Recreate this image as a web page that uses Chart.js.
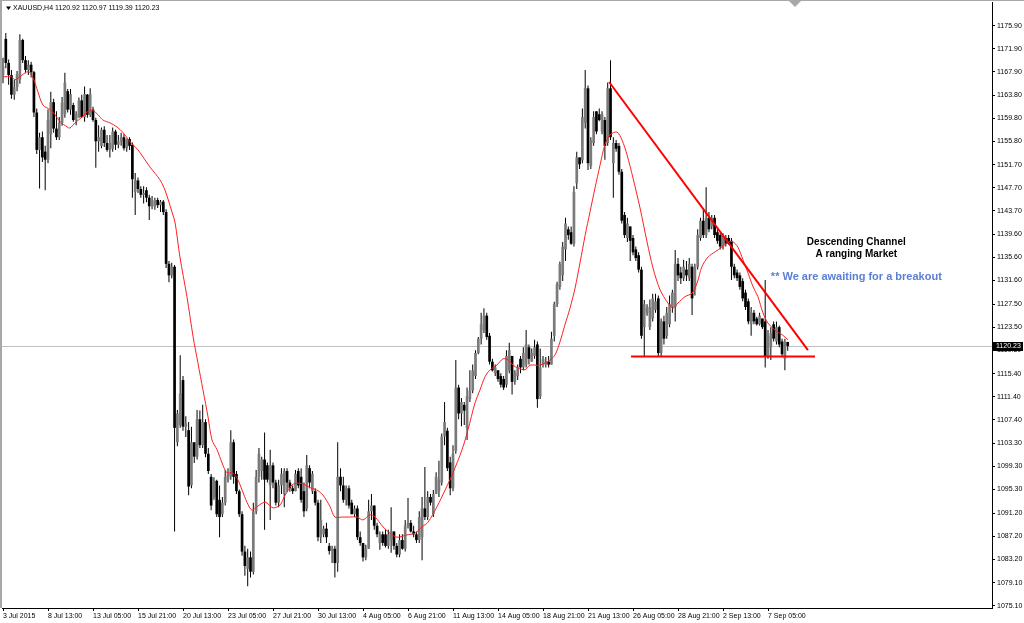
<!DOCTYPE html>
<html><head><meta charset="utf-8">
<script src="https://cdn.jsdelivr.net/npm/chart.js@4/dist/chart.umd.min.js"></script>
<style>html,body{margin:0;padding:0;background:#fff;}canvas{display:block}</style>
</head><body>
<canvas id="c" width="1024" height="623"></canvas>
<script>
const symbolName = 'XAUUSD,H4';

const openP = [
1167.3,1173.6,1169.4,1167.3,1163.9,1165.2,1166.5,1173.4,1169.9,1168.2,
1169.1,1167.8,1160.8,1154.3,1156.5,1154.0,1152.6,1157.0,1162.6,1158.0,
1156.5,1159.0,1160.5,1164.5,1161.3,1162.1,1159.5,1159.9,1162.9,1160.0,
1163.9,1160.4,1161.3,1159.5,1155.8,1155.0,1157.8,1155.5,1154.3,1154.5,
1157.5,1155.2,1155.8,1156.5,1154.6,1156.2,1155.2,1147.0,1149.0,1147.5,
1146.5,1147.3,1146.0,1144.5,1144.5,1145.6,1144.7,1145.3,1143.5,1134.5,
1132.5,1134.0,1103.5,1106.5,1114.3,1106.2,1105.6,1096.0,1103.5,1101.0,
1107.5,1103.0,1107.0,1101.5,1097.5,1094.0,1096.8,1093.5,1091.0,1093.0,
1097.0,1097.5,1103.5,1098.0,1095.0,1091.0,1084.5,1081.5,1083.5,1081.0,
1091.5,1097.5,1098.5,1100.5,1099.5,1096.0,1099.5,1096.5,1093.0,1096.0,
1094.5,1098.5,1096.5,1095.5,1095.0,1098.5,1097.5,1095.0,1092.0,1099.0,
1095.0,1095.0,1093.0,1087.0,1087.5,1088.5,1085.5,1084.6,1085.0,1082.5,
1097.5,1096.0,1093.5,1095.5,1093.0,1091.0,1092.0,1087.0,1086.0,1083.5,
1085.0,1091.5,1092.5,1089.0,1086.0,1087.5,1087.5,1085.5,1086.5,1088.0,
1085.5,1084.0,1086.5,1085.0,1089.0,1089.5,1088.0,1087.5,1086.5,1087.0,
1092.0,1090.5,1094.0,1091.0,1094.5,1095.0,1096.5,1104.5,1105.5,1100.0,
1095.5,1102.0,1113.0,1108.5,1110.0,1106.0,1111.0,1112.5,1115.0,1119.0,
1121.5,1123.0,1125.5,1122.0,1117.5,1115.5,1116.0,1115.0,1114.5,1113.5,
1116.0,1118.5,1114.0,1115.0,1118.0,1116.5,1117.0,1120.0,1117.5,1118.5,
1120.5,1111.5,1117.0,1117.0,1117.5,1117.0,1122.0,1127.5,1130.5,1132.5,
1137.0,1140.5,1140.0,1138.0,1148.5,1153.0,1152.5,1159.0,1165.0,1151.5,
1155.5,1161.0,1160.5,1157.5,1159.5,1155.5,1165.0,1152.0,1155.5,1155.0,
1150.5,1143.0,1139.0,1141.0,1139.0,1137.0,1136.0,1133.5,1123.5,1126.0,
1123.5,1125.0,1126.5,1128.5,1119.0,1124.5,1122.0,1124.0,1127.0,1127.0,
1134.5,1133.0,1132.0,1133.5,1132.0,1134.0,1130.0,1134.0,1139.0,1142.0,
1139.5,1142.5,1141.0,1142.5,1140.0,1139.5,1137.5,1139.0,1139.0,1138.5,
1134.0,1133.0,1132.5,1131.5,1129.5,1128.0,1124.0,1126.0,1125.0,1124.0,
1125.0,1124.5,1118.5,1120.0,1124.0,1121.0,1123.5,1121.0,1118.0,1120.92
];

const highP = [
1170.3,1174.6,1170.0,1168.2,1166.5,1168.0,1174.4,1173.6,1170.6,1169.9,
1169.6,1168.0,1161.5,1157.3,1157.5,1155.0,1161.3,1164.4,1163.2,1161.0,
1160.0,1163.5,1167.7,1164.9,1164.9,1162.5,1161.0,1163.4,1163.9,1165.3,
1164.0,1165.0,1161.8,1159.9,1158.6,1158.2,1158.4,1156.9,1156.9,1158.2,
1157.8,1156.9,1157.3,1157.0,1156.3,1156.5,1155.6,1150.3,1149.5,1148.0,
1148.0,1147.8,1146.5,1146.3,1146.0,1146.0,1145.6,1145.6,1144.0,1135.0,
1134.7,1134.3,1109.1,1118.6,1115.0,1108.0,1107.0,1106.2,1103.5,1109.1,
1109.0,1110.0,1107.5,1102.5,1098.0,1097.4,1097.0,1096.0,1094.0,1098.7,
1099.0,1105.6,1104.0,1098.5,1095.3,1091.5,1085.5,1085.0,1084.5,1093.0,
1098.7,1102.5,1101.0,1105.2,1100.0,1102.2,1100.0,1097.0,1097.0,1099.0,
1099.0,1099.0,1097.0,1096.0,1098.7,1099.0,1099.0,1096.5,1101.3,1099.5,
1098.5,1095.5,1093.5,1093.5,1089.0,1089.5,1086.0,1085.5,1085.5,1103.5,
1099.0,1097.5,1096.0,1096.0,1093.5,1092.5,1092.5,1088.0,1086.0,1085.7,
1093.5,1094.5,1092.5,1089.5,1088.0,1088.0,1088.3,1088.3,1092.2,1088.0,
1086.0,1087.5,1087.5,1090.0,1093.8,1090.0,1089.0,1088.0,1091.5,1094.0,
1099.2,1095.0,1094.5,1095.2,1098.3,1100.3,1105.0,1110.5,1106.0,1101.0,
1103.0,1117.8,1113.5,1111.2,1110.5,1113.0,1116.0,1117.0,1119.5,1121.8,
1126.0,1126.8,1126.0,1122.5,1118.0,1117.0,1116.0,1115.5,1115.0,1119.5,
1120.8,1118.5,1116.0,1117.0,1118.5,1120.0,1123.0,1120.5,1119.8,1121.3,
1121.0,1119.8,1118.5,1118.3,1118.5,1122.7,1127.9,1131.4,1134.9,1138.3,
1142.5,1141.0,1141.0,1148.0,1154.0,1153.0,1161.5,1168.2,1165.5,1156.5,
1161.0,1161.0,1161.5,1161.0,1160.0,1166.0,1169.9,1156.5,1156.0,1155.5,
1151.0,1143.5,1142.5,1141.0,1139.5,1137.5,1136.5,1134.0,1128.2,1127.5,
1128.3,1129.3,1129.3,1129.0,1125.0,1125.5,1127.0,1129.0,1130.0,1136.9,
1135.5,1134.0,1135.2,1135.0,1135.5,1134.5,1134.5,1140.5,1142.5,1144.0,
1147.8,1143.5,1143.0,1143.0,1140.5,1139.8,1139.8,1139.5,1139.5,1139.0,
1134.5,1133.5,1133.0,1132.0,1130.0,1128.5,1127.0,1126.5,1125.3,1126.0,
1125.0,1131.7,1123.0,1123.5,1124.5,1124.5,1123.8,1121.5,1121.5,1120.97
];

const lowP = [
1165.9,1168.5,1165.6,1163.2,1163.0,1164.5,1165.8,1169.4,1167.6,1167.3,
1166.9,1160.0,1153.6,1147.6,1152.2,1147.3,1152.0,1154.6,1157.3,1156.0,
1156.0,1158.5,1159.9,1160.8,1160.4,1159.2,1158.6,1159.9,1159.9,1159.2,
1159.9,1160.0,1159.2,1151.2,1154.0,1154.6,1154.8,1154.0,1153.0,1154.0,
1154.3,1154.6,1155.0,1154.2,1154.0,1154.3,1146.0,1143.0,1146.8,1146.0,
1145.0,1145.2,1142.1,1144.0,1143.9,1144.2,1143.5,1143.0,1133.8,1131.3,
1132.0,1088.0,1102.8,1106.0,1105.5,1104.4,1094.3,1095.5,1099.9,1100.5,
1102.5,1102.5,1100.9,1098.0,1091.7,1093.5,1090.5,1087.0,1090.5,1092.5,
1096.5,1097.0,1096.3,1094.5,1090.5,1083.8,1080.3,1078.5,1080.0,1080.5,
1091.0,1096.5,1097.0,1088.3,1096.5,1090.0,1095.5,1092.5,1092.2,1094.5,
1092.2,1094.8,1094.9,1094.5,1095.0,1095.5,1093.0,1090.5,1091.5,1095.5,
1094.5,1092.5,1086.3,1086.0,1087.0,1086.0,1084.0,1082.5,1080.0,1081.0,
1095.0,1093.0,1092.5,1092.0,1091.0,1090.5,1086.5,1085.5,1082.8,1083.0,
1085.0,1090.0,1088.3,1087.0,1084.8,1085.5,1085.2,1085.0,1084.3,1084.8,
1083.5,1083.5,1084.8,1084.5,1088.5,1087.8,1087.0,1086.0,1086.0,1083.0,
1090.0,1090.0,1092.5,1090.5,1094.5,1094.0,1096.0,1103.0,1098.5,1094.3,
1095.0,1101.5,1107.5,1106.3,1106.5,1103.9,1110.5,1112.0,1114.5,1118.8,
1120.5,1122.5,1121.3,1117.0,1115.8,1115.0,1114.0,1113.0,1112.6,1113.0,
1115.5,1111.8,1113.5,1114.3,1115.5,1116.0,1116.5,1117.0,1117.5,1118.0,
1109.5,1111.0,1116.5,1116.5,1116.5,1117.0,1121.0,1127.0,1130.0,1131.5,
1135.0,1138.7,1137.8,1137.5,1147.5,1151.0,1152.0,1158.0,1150.8,1151.0,
1155.0,1157.0,1159.3,1157.0,1152.6,1155.0,1156.0,1146.0,1154.0,1150.0,
1141.5,1139.0,1138.3,1135.0,1136.0,1135.0,1133.0,1121.5,1118.5,1125.5,
1123.0,1124.5,1126.0,1118.5,1118.3,1120.5,1121.5,1123.5,1126.0,1124.5,
1131.5,1131.0,1131.5,1131.5,1131.5,1125.6,1129.0,1133.5,1138.5,1139.0,
1139.0,1140.0,1140.5,1139.0,1138.0,1137.0,1137.0,1137.5,1137.8,1131.7,
1132.0,1131.5,1130.0,1128.0,1126.5,1124.0,1122.0,1124.0,1123.8,1123.8,
1123.2,1116.5,1118.0,1117.8,1121.0,1120.5,1120.0,1118.3,1116.0,1119.39
];

const closeP = [
1168.9,1169.4,1167.3,1163.9,1165.2,1167.5,1173.4,1169.9,1168.2,1169.1,
1167.8,1160.8,1154.3,1156.5,1153.0,1152.6,1159.5,1162.6,1158.0,1156.5,
1159.0,1162.5,1166.0,1161.3,1164.0,1159.5,1160.5,1162.9,1160.0,1164.0,
1160.4,1164.0,1159.5,1155.8,1156.5,1157.8,1155.5,1154.3,1155.5,1157.5,
1155.2,1155.8,1156.5,1154.6,1156.2,1155.0,1149.2,1149.0,1147.5,1146.5,
1146.8,1146.0,1144.5,1145.5,1145.6,1144.7,1145.3,1143.5,1134.5,1132.5,
1134.0,1106.0,1108.5,1112.0,1106.2,1106.8,1095.8,1103.5,1101.0,1107.5,
1103.0,1107.0,1101.5,1098.5,1092.5,1096.8,1091.0,1090.5,1093.0,1097.5,
1098.0,1103.5,1097.5,1095.0,1091.0,1084.5,1082.0,1083.5,1081.0,1091.5,
1097.5,1101.5,1100.5,1097.0,1097.0,1099.5,1096.5,1093.0,1096.0,1098.0,
1098.5,1096.5,1095.5,1095.0,1098.0,1096.0,1093.5,1091.5,1099.5,1096.5,
1098.0,1093.0,1087.0,1090.0,1088.5,1087.0,1084.6,1085.0,1082.5,1097.5,
1096.0,1093.5,1095.5,1092.5,1091.0,1092.0,1087.0,1086.0,1083.5,1085.0,
1091.5,1092.5,1089.0,1087.5,1087.5,1086.0,1085.5,1087.5,1088.0,1085.5,
1084.0,1086.5,1085.0,1089.0,1089.5,1088.0,1087.5,1086.5,1090.5,1092.0,
1090.5,1094.0,1093.0,1094.5,1097.5,1097.0,1104.5,1107.0,1099.0,1095.5,
1101.5,1113.0,1108.5,1110.5,1109.0,1111.5,1112.5,1116.0,1119.0,1121.5,
1124.0,1125.5,1121.8,1117.5,1116.0,1116.5,1114.5,1113.5,1113.0,1118.5,
1119.5,1114.0,1115.5,1116.5,1116.5,1119.0,1120.5,1118.0,1119.0,1120.0,
1111.0,1116.5,1118.0,1117.5,1117.0,1121.5,1127.5,1131.0,1134.5,1137.5,
1141.5,1139.5,1138.0,1147.0,1153.0,1151.8,1160.0,1165.0,1152.0,1156.0,
1160.0,1157.5,1159.5,1160.5,1155.0,1165.0,1156.5,1155.5,1154.5,1150.5,
1142.0,1139.5,1141.5,1138.5,1136.5,1135.5,1133.5,1122.0,1127.5,1127.0,
1127.0,1128.5,1128.0,1119.0,1124.5,1121.5,1126.0,1127.5,1129.5,1134.5,
1132.5,1132.0,1134.0,1132.5,1134.5,1128.5,1134.0,1139.5,1142.0,1139.5,
1142.5,1140.5,1142.5,1139.5,1138.5,1137.5,1139.0,1138.0,1138.0,1134.0,
1132.5,1132.0,1130.5,1128.5,1127.0,1124.5,1126.0,1124.5,1124.0,1125.5,
1123.5,1118.5,1122.0,1122.5,1121.5,1123.5,1120.5,1118.8,1121.0,1120.23
];

// moving average (red line), read at bar positions
const maIdx = [
0,3,4.3,8.9,10.7,12.4,14.2,16.7,18.5,20.3,
22.8,23.8,25.6,28.1,29.9,32,33.8,35.5,38,40.5,
42.7,45.2,46.2,48,52.3,55.8,57.6,60.1,61.2,62.9,
65.4,67.6,69.3,71.1,72.9,74.3,76.1,77.9,79.6,81.4,
83.2,85,86.8,88.5,90.3,93.2,96,98.5,100.3,102.8,
104.9,107.4,109.2,111.6,113.8,116.3,118,120.5,122.7,125.9,
128,130.5,132.3,135.1,137.6,140.1,143.6,146.5,149,151.1,
154.3,157.2,160,163.2,165.3,167.8,169.6,171.4,173.2,175.6,
177.8,179.6,181.3,183.1,185.6,187.4,190.9,194.5,196.3,198,
199.8,201.6,203.4,205.2,207,208.7,210.5,212.3,214,215.8,
218.3,220.1,221.9,224,226.5,229,231.1,233.6,236.4,238.2,
240,242.5,245,246.8,248.5,250.7,253.2,255.6,257.8,259.6,
261.3,263.1,264.9,266.7,268.4,270.2,272,274.5,277,279.1
];
const maVal = [
1167.0,1167.0,1166.5,1167.9,1166.8,1164.4,1162.1,1161.3,1160.4,1159.2,
1158.3,1158.1,1159.0,1160.0,1160.9,1161.1,1160.4,1159.5,1159.0,1158.3,
1157.3,1155.7,1155.2,1154.3,1151.3,1149.1,1147.3,1143.5,1141.6,1135.7,
1128.8,1121.8,1117.3,1112.6,1107.9,1103.9,1102.2,1099.9,1098.2,1098.2,
1097.3,1095.2,1093.0,1091.7,1092.3,1093.1,1092.1,1092.6,1094.3,1096.1,
1096.4,1096.1,1095.6,1095.2,1094.3,1092.3,1090.5,1090.5,1090.5,1090.5,
1090.0,1090.9,1090.5,1088.8,1087.7,1087.0,1087.4,1087.7,1088.8,1089.6,
1092.3,1095.2,1098.2,1102.2,1105.6,1110.3,1112.6,1114.9,1116.1,1116.9,
1118.0,1117.8,1116.9,1116.4,1116.1,1116.9,1116.9,1117.8,1118.7,1120.9,
1123.9,1126.8,1130.3,1134.8,1139.5,1143.5,1147.7,1151.7,1155.2,1156.9,
1157.4,1156.0,1153.4,1149.4,1144.2,1138.3,1133.8,1130.0,1127.7,1126.8,
1127.7,1128.8,1129.4,1131.2,1134.0,1135.7,1136.6,1137.4,1138.3,1138.3,
1137.4,1135.2,1132.9,1130.5,1128.8,1126.0,1124.2,1123.0,1122.2,1121.3
];

// hand-drawn trend lines (bar index, price)
const resistIdx = [215.5, 286.2];
const resistVal = [1166.1, 1119.5];
const supportIdx = [223.3, 288.7];
const supportVal = [1118.4, 1118.4];

const xTickIdx = [0,16,32,48,64,80,96,112,128,144,160,176,192,208,224,240,256,272];
const xTickLabels = ['3 Jul 2015','8 Jul 13:00','13 Jul 05:00','15 Jul 21:00','20 Jul 13:00','23 Jul 05:00',
  '27 Jul 21:00','30 Jul 13:00','4 Aug 05:00','6 Aug 21:00','11 Aug 13:00','14 Aug 05:00',
  '18 Aug 21:00','21 Aug 13:00','26 Aug 05:00','28 Aug 21:00','2 Sep 13:00','7 Sep 05:00'];
const yTickLabels = ['1175.90','1171.90','1167.90','1163.80','1159.80','1155.80','1151.70','1147.70',
  '1143.70','1139.60','1135.60','1131.60','1127.50','1123.50','1119.50','1115.40','1111.40','1107.40',
  '1103.30','1099.30','1095.30','1091.20','1087.20','1083.20','1079.10','1075.10'];

const noteTexts = ['Descending Channel', 'A ranging Market', '** We are awaiting for a breakout'];

// ---------- build datasets ----------
const wickData = lowP.map((l, i) => ({x: i, y: [l, highP[i]]}));
const bodyData = openP.map((o, i) => ({x: i, y: [o, closeP[i]]}));
const bodyColors = openP.map((o, i) => closeP[i] >= o ? '#7a7a7a' : '#000000');
const maData = maIdx.map((x, i) => ({x: x, y: maVal[i]}));
const resistData = resistIdx.map((x, i) => ({x: x, y: resistVal[i]}));
const supportData = supportIdx.map((x, i) => ({x: x, y: supportVal[i]}));

const FONT = '"Liberation Sans", Arial, sans-serif';

const mt4Plugin = {
  id: 'mt4',
  beforeDraw(chart) {
    const {ctx, width, height} = chart;
    ctx.save();
    ctx.fillStyle = '#ffffff';
    ctx.fillRect(0, 0, width, height);
    ctx.restore();
  },
  beforeDatasetsDraw(chart) {
    const {ctx, chartArea: a, scales: {y}} = chart;
    const py = Math.round(y.getPixelForValue(closeP[closeP.length - 1])) + 0.5;
    ctx.save();
    ctx.strokeStyle = '#c0c0c0';
    ctx.lineWidth = 1;
    ctx.beginPath();
    ctx.moveTo(a.left, py);
    ctx.lineTo(a.right, py);
    ctx.stroke();
    ctx.restore();
  },
  afterDraw(chart) {
    const {ctx, chartArea: a, scales: {x, y}} = chart;
    const last = closeP.length - 1;
    ctx.save();
    // window frame
    ctx.fillStyle = '#a8a8a8';
    ctx.fillRect(0, 0, chart.width, 1);
    ctx.fillRect(0, 0, 2, a.bottom);
    // chart shift marker
    ctx.beginPath();
    ctx.moveTo(789, 1); ctx.lineTo(801, 1); ctx.lineTo(795, 7); ctx.closePath(); ctx.fill();
    // title
    ctx.fillStyle = '#000';
    ctx.beginPath();
    ctx.moveTo(6, 6.5); ctx.lineTo(11, 6.5); ctx.lineTo(8.5, 10); ctx.closePath(); ctx.fill();
    ctx.font = '7px ' + FONT;
    ctx.textBaseline = 'middle';
    ctx.textAlign = 'left';
    const title = symbolName + ' ' + openP[last].toFixed(2) + ' ' + highP[last].toFixed(2) + ' ' +
      lowP[last].toFixed(2) + ' ' + closeP[last].toFixed(2);
    ctx.fillText(title, 13, 8.5);
    // last price tag
    const py = Math.round(y.getPixelForValue(closeP[last]));
    ctx.fillStyle = '#000';
    ctx.fillRect(a.right + 1, py - 4, 30, 9);
    ctx.fillStyle = '#fff';
    ctx.font = '7px ' + FONT;
    ctx.fillText(closeP[last].toFixed(2), a.right + 4, py + 0.5);
    // notes
    ctx.textAlign = 'center';
    const cx = x.getPixelForValue(303.4);
    ctx.fillStyle = '#000';
    ctx.font = 'bold 10px ' + FONT;
    ctx.fillText(noteTexts[0], cx, y.getPixelForValue(1138.3));
    ctx.fillText(noteTexts[1], cx, y.getPixelForValue(1136.1));
    ctx.fillStyle = '#5a7fd3';
    ctx.font = 'bold 11px ' + FONT;
    ctx.fillText(noteTexts[2], cx, y.getPixelForValue(1132.2));
    ctx.restore();
  }
};

new Chart(document.getElementById('c'), {
  type: 'bar',
  data: {
    datasets: [
      {type: 'line', label: 'resistance', data: resistData, borderColor: '#ff0000', borderWidth: 2, pointRadius: 0, order: 0},
      {type: 'line', label: 'support', data: supportData, borderColor: '#ff0000', borderWidth: 2, pointRadius: 0, order: 0},
      {type: 'line', label: 'MA', data: maData, borderColor: '#ff2020', borderWidth: 1, pointRadius: 0, tension: 0.3, order: 0},
      {type: 'bar', label: 'body', data: bodyData, backgroundColor: bodyColors, maxBarThickness: 2.7, order: 1},
      {type: 'bar', label: 'wick', data: wickData, backgroundColor: '#000000', maxBarThickness: 1, order: 2}
    ]
  },
  options: {
    responsive: false,
    animation: false,
    events: [],
    layout: {padding: {left: 2, top: 2, right: 0, bottom: 0}},
    datasets: {bar: {grouped: false, borderWidth: 0, inflateAmount: 0, categoryPercentage: 1, barPercentage: 1}},
    plugins: {legend: {display: false}, tooltip: {enabled: false}, title: {display: false}},
    scales: {
      x: {
        type: 'linear', position: 'bottom', min: -0.356, max: 351.64, offset: false,
        afterBuildTicks: s => { s.ticks = xTickIdx.map(v => ({value: v})); },
        afterFit: s => { s.height = 15; s.paddingLeft = 0; s.paddingRight = 0; },
        grid: {drawOnChartArea: false, drawTicks: true, tickLength: 3, color: '#000', offset: false},
        border: {display: true, color: '#000', width: 1},
        ticks: {autoSkip: false, maxRotation: 0, minRotation: 0, align: 'start', padding: 1, color: '#000',
          font: {family: FONT, size: 7}, callback: (v, i) => xTickLabels[i]}
      },
      y: {
        type: 'linear', position: 'right', min: 1074.7, max: 1180.0,
        afterBuildTicks: s => { s.ticks = yTickLabels.map(t => ({value: parseFloat(t)})); },
        afterFit: s => { s.width = 32; s.paddingTop = 0; s.paddingBottom = 0; },
        grid: {drawOnChartArea: false, drawTicks: true, tickLength: 3, color: '#000'},
        border: {display: true, color: '#000', width: 1},
        ticks: {autoSkip: false, padding: 2, color: '#000', font: {family: FONT, size: 7},
          callback: (v, i) => yTickLabels[i]}
      }
    }
  },
  plugins: [mt4Plugin]
});
</script>
</body></html>
